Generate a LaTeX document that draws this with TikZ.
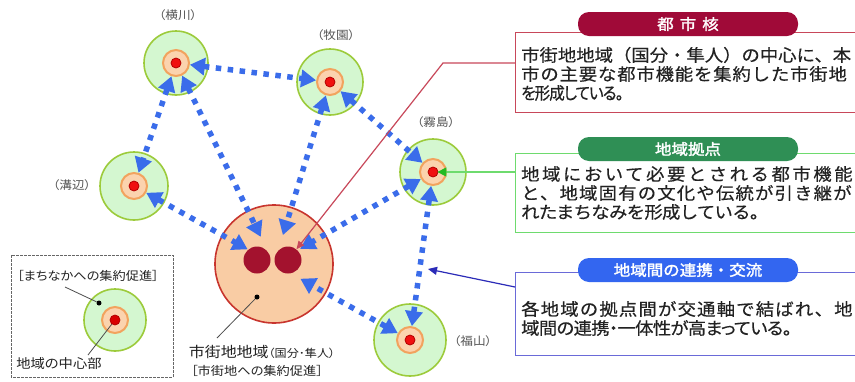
\documentclass[tikz,border=0pt]{standalone}
\usepackage{fontspec}
\usetikzlibrary{arrows.meta}
\newfontfamily\jp[RawFeature=+palt,FakeStretch=1.1]{Noto Sans CJK JP}
\newfontfamily\jpbox[FakeStretch=1.08,FakeBold=0.4]{Noto Sans CJK JP}
\newfontfamily\jpboxp[RawFeature=+palt,FakeStretch=1.08,FakeBold=0.4]{Noto Sans CJK JP}
\newfontfamily\jpboxn[RawFeature=+palt,FakeStretch=0.92,FakeBold=0.4]{Noto Sans CJK JP}
\newfontfamily\jpb[FakeStretch=1.1,FakeBold=2]{Noto Sans CJK JP}
\newcommand\lsp[2]{{\addfontfeature{LetterSpace=#1}#2}}
\definecolor{lnkblue}{HTML}{3A6CEA}
\definecolor{rgfill}{HTML}{D4F7D0}
\definecolor{rgdraw}{HTML}{9CCB3B}
\definecolor{corefill}{HTML}{FBD3AE}
\definecolor{coredraw}{HTML}{F2A35E}
\definecolor{dotred}{HTML}{F01010}
\definecolor{cityfill}{HTML}{F9CCA4}
\definecolor{citydraw}{HTML}{C8352E}
\definecolor{citydot}{HTML}{A3122E}
\definecolor{kakured}{HTML}{A00A38}
\definecolor{kakuline}{HTML}{C8485A}
\definecolor{kyogreen}{HTML}{2F8F55}
\definecolor{kyoline}{HTML}{6EDB6E}
\definecolor{kyoarrow}{HTML}{22BB22}
\definecolor{renblue}{HTML}{3366F0}
\definecolor{renline}{HTML}{6A6AD8}
\definecolor{renarrow}{HTML}{2B2BB8}
\definecolor{lblgray}{HTML}{555555}
\definecolor{txtdark}{HTML}{222222}
\begin{document}
\begin{tikzpicture}[x=1pt,y=-1pt,
  region/.style={circle,fill=rgfill,draw=rgdraw,line width=1.6pt,minimum size=#1,inner sep=0pt},
  region/.default=66pt,
  core/.style={circle,fill=corefill,draw=coredraw,line width=2pt,minimum size=26pt,inner sep=0pt},
  reddot/.style={circle,fill=dotred,draw=red!70!black,line width=0.8pt,minimum size=10pt,inner sep=0pt},
  link/.style={draw=lnkblue,line width=5.5pt,dash pattern=on 5.5pt off 6.5pt,
    arrows={Triangle[length=15pt,width=17pt]-Triangle[length=15pt,width=17pt]}},
  rlabel/.style={text=lblgray,font=\jp\fontsize{11.5}{13}\selectfont,inner sep=0pt},
  boxtxt/.style={anchor=west,text=txtdark,font=\jpbox\fontsize{17}{18}\selectfont,inner sep=0pt},
  boxtxtp/.style={anchor=west,text=txtdark,font=\jpboxp\fontsize{17}{18}\selectfont,inner sep=0pt},
  boxtxtn/.style={anchor=west,text=txtdark,font=\jpboxn\fontsize{17}{18}\selectfont,inner sep=0pt},
  pill/.style={rounded corners=11pt,minimum width=220pt,minimum height=24pt,inner sep=0pt,
    text=white,font=\jpb\fontsize{15}{16}\selectfont},
  infobox/.style={anchor=north west,minimum width=350pt,inner sep=0pt,line width=1.2pt},
  small/.style={text=txtdark,font=\jp\fontsize{12}{14}\selectfont,inner sep=0pt}
]
\useasboundingbox (0,0) rectangle (855,381);
\clip (0,0) rectangle (855,381);
\fill[white] (0,0) rectangle (855,381);

% ---- regions ----
\node[region=64pt] (yk) at (176,63) {};
\node[region=66pt] (mk) at (330,82) {};
\node[region=68pt] (mz) at (134,186) {};
\node[region=66pt] (kr) at (433,172) {};
\node[region=72pt] (fy) at (410,340) {};
\node[core] (ykC) at (176,63) {};
\node[core] (mkC) at (330,82) {};
\node[core] (mzC) at (134,186) {};
\node[core] (krC) at (433,172) {};
\node[core] (fyC) at (410,340) {};
\node[reddot] (ykD) at (176,63) {};
\node[reddot] (mkD) at (330,82) {};
\node[reddot] (mzD) at (134,186) {};
\node[reddot] (krD) at (433,172) {};
\node[reddot] (fyD) at (410,340) {};

% ---- central urban area ----
\node[circle,fill=cityfill,draw=citydraw,line width=1.6pt,minimum size=118pt,inner sep=0pt] (city) at (274,264) {};
\node[circle,minimum size=60pt,inner sep=0pt] (cityIn) at (274,264) {};
\node[circle,fill=citydot,minimum size=27pt,inner sep=0pt] (cd1) at (257,260) {};
\node[circle,fill=citydot,minimum size=27pt,inner sep=0pt] (cd2) at (288,260) {};
\node[circle,fill=black,minimum size=5pt,inner sep=0pt] (cityDot) at (257,297) {};
\coordinate (cityE) at (217,338);
\draw[black!70,line width=0.8pt] (cityDot) -- (cityE);

% ---- links ----
\draw[link] (ykC) -- (mkC);
\draw[link] (ykC) -- (mzC);
\draw[link] (ykC) -- (cityIn);
\draw[link] (mzC) -- (cityIn);
\draw[link] (mkC) -- (cityIn);
\draw[link] (mkC) -- (krC);
\draw[link] (krC) -- (cityIn);
\draw[link] (krC) -- (fyC);
\draw[link] (fyC) -- (cityIn);

% ---- region labels ----
\node[rlabel] (lyk) at (178,15) {（横川）};
\node[rlabel] (lmk) at (336,35) {（牧園）};
\node[rlabel] (lmz) at (72,185) {（溝辺）};
\node[rlabel] (lkr) at (436,122) {（霧島）};
\node[rlabel] (lfy) at (473,341) {（福山）};

\node[text=txtdark,inner sep=0pt] (cityT1) at (262,352)
  {{\jp\fontsize{14.5}{16}\selectfont 市街地地域}{\jp\fontsize{11}{13}\selectfont （国分･隼人）}};
\node[small] (cityT2) at (257,371) {［市街地への集約促進］};

% ---- legend ----
\draw[black!60,line width=0.8pt,dash pattern=on 3pt off 1pt] (11,255) rectangle (173,377);
\node[region=62pt] (lgR) at (115,320) {};
\node[core] (lgC) at (115,320) {};
\node[reddot,fill=red!85!black] (lgD) at (115,320) {};
\node[circle,fill=black,minimum size=5pt,inner sep=0pt] (lgDot) at (99,303) {};
\node[small] (lgT1) at (88,276) {［まちなかへの集約促進］};
\node[small,font=\jp\fontsize{13}{14}\selectfont] (lgT2) at (59,364) {地域の中心部};
\coordinate (lgE1) at (65,287);
\coordinate (lgE2) at (88,355);
\draw[black!70,line width=0.8pt] (lgDot) -- (lgE1);
\draw[black!70,line width=0.8pt] (lgD) -- (lgE2);

% ---- info boxes ----
\node[infobox,draw=kakuline,minimum height=80pt] (kakubox) at (515,32) {};
\node[pill,fill=kakured] (kakupill) at (688,24) {都\hspace{6pt}市\hspace{6pt}核};
\node[boxtxt] (k1) at (521,55) {市街地地域（国分・隼人）の中心に、本};
\node[boxtxt] (k2) at (521,74) {\lsp{5}{市の主要な都市機能を集約した市街地}};
\node[boxtxtn] (k3) at (521,93) {\lsp{-6}{を形成している。}};

\node[infobox,draw=kyoline,minimum height=79pt] (kyobox) at (515,153) {};
\node[pill,fill=kyogreen] (kyopill) at (688,149) {地域拠点};
\node[boxtxt] (g1) at (521,174) {\lsp{15}{地域において必要とされる都市機能}};
\node[boxtxt] (g2) at (521,193) {\lsp{7}{と、地域固有の文化や伝統が引き継が}};
\node[boxtxt] (g3) at (521,212) {\lsp{-4}{れたまちなみを形成している。}};

\node[infobox,draw=renline,minimum height=83pt] (renbox) at (515,272) {};
\node[pill,fill=renblue] (renpill) at (688,270) {地域間の連携・交流};
\node[boxtxt] (b1) at (521,309) {\lsp{7}{各地域の拠点間が交通軸で結ばれ、地}};
\node[boxtxtp] (b2) at (521,328) {\lsp{-4}{域間の連携・一体性が高まっている。}};

% ---- leaders ----
\coordinate (kbend) at (443,63);
\draw[kakuline,line width=1.2pt,arrows={-Triangle[length=8pt,width=7pt]}]
  (kakubox.west |- kbend) -- (kbend) -- (cd2);
\draw[kyoline,line width=1.4pt,arrows={-Triangle[length=9pt,width=9pt,color=kyoarrow]},shorten >=-1pt]
  (kyobox.west |- krD) -- (krD);
\coordinate (renTip) at (428,269);
\coordinate (renStart) at (515,287);
\draw[renarrow,line width=1.2pt,arrows={-Triangle[length=9pt,width=8pt]}]
  (renStart) -- (renTip);
\end{tikzpicture}
\end{document}
